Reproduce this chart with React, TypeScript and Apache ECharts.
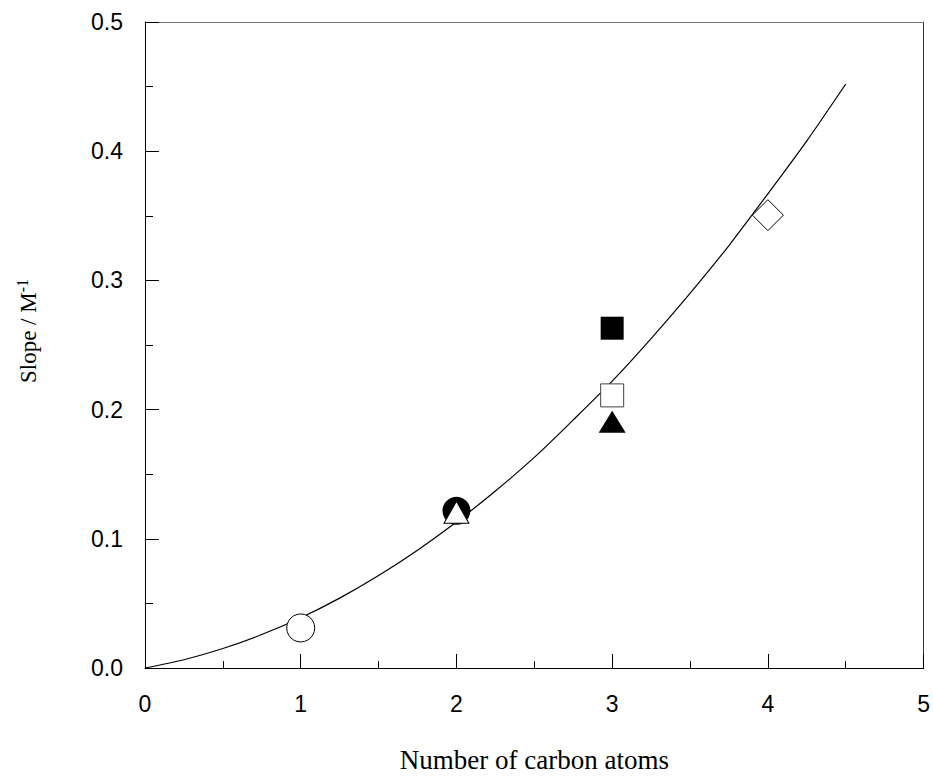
import React, { useEffect, useRef } from "react";
import * as echarts from "echarts";

// Fitted curve
const curveX = [0, 0.25, 0.5, 0.75, 1, 1.25, 1.5, 1.75, 2, 2.25, 2.5, 2.75, 3, 3.25, 3.5, 3.75, 4, 4.25, 4.5];
const curveY = [0, 0.0064, 0.0151, 0.0259, 0.0389, 0.0541, 0.0716, 0.0912, 0.113, 0.137, 0.163, 0.192, 0.222, 0.255, 0.29, 0.327, 0.367, 0.408, 0.452];

// Data points [carbon atoms, slope]
const openCircle = [[1, 0.031]];
const filledCircle = [[2, 0.1217]];
const openTriangle = [[2, 0.1205]];
const filledSquare = [[3, 0.263]];
const openSquare = [[3, 0.211]];
const filledTriangle = [[3, 0.1905]];
const openDiamond = [[4, 0.3505]];

const xTicks = [0, 1, 2, 3, 4, 5];
const yTicks = [0, 0.1, 0.2, 0.3, 0.4, 0.5];

export default function App() {
  const ref = useRef<HTMLDivElement>(null);
  useEffect(() => {
    if (!ref.current) return;
    const chart = echarts.init(ref.current, undefined, { renderer: "svg" });
    const sans = "Liberation Sans, Arial, sans-serif";
    const serif = "Liberation Serif, Times New Roman, serif";
    chart.setOption({
      animation: false,
      backgroundColor: "#fff",
      grid: { left: 145, right: 8, top: 22, bottom: 109, containLabel: false },
      graphic: [
        {
          type: "text",
          x: 28,
          y: 331,
          rotation: Math.PI / 2,
          style: {
            text: "{a|Slope / M}{b|-1}",
            align: "center",
            verticalAlign: "middle",
            fontFamily: serif,
            fontSize: 23,
            fill: "#000",
            rich: {
              a: { fontFamily: serif, fontSize: 23, fill: "#000", lineHeight: 28 },
              b: { fontFamily: serif, fontSize: 16, fill: "#000", verticalAlign: "top", lineHeight: 28, padding: [0, 0, 11, 0] },
            },
          },
        },
      ],
      xAxis: [
        {
          type: "value",
          min: xTicks[0],
          max: xTicks[xTicks.length - 1],
          interval: 1,
          name: "Number of carbon atoms",
          nameLocation: "middle",
          nameGap: 78,
          nameTextStyle: { fontFamily: serif, fontSize: 27, color: "#000" },
          axisLine: { show: true, onZero: false, lineStyle: { color: "#000", width: 1 } },
          axisTick: { show: true, inside: true, length: 14, lineStyle: { color: "#000" } },
          minorTick: { show: true, splitNumber: 2, length: 7, lineStyle: { color: "#000" } },
          axisLabel: { margin: 24, fontFamily: sans, fontSize: 23, color: "#000" },
          splitLine: { show: false },
        },
        {
          type: "value",
          position: "top",
          min: 0,
          max: 5,
          interval: 1,
          axisLine: { show: true, onZero: false, lineStyle: { color: "#777", width: 1 } },
          axisTick: { show: false },
          axisLabel: { show: false },
          splitLine: { show: false },
        },
      ],
      yAxis: [
        {
          type: "value",
          min: yTicks[0],
          max: yTicks[yTicks.length - 1],
          interval: 0.1,
          axisLine: { show: true, onZero: false, lineStyle: { color: "#000", width: 1 } },
          axisTick: { show: true, inside: true, length: 14, lineStyle: { color: "#000" } },
          minorTick: { show: true, splitNumber: 2, length: 8, lineStyle: { color: "#000" } },
          axisLabel: {
            margin: 22,
            fontFamily: sans,
            fontSize: 23,
            color: "#000",
            formatter: (v: number) => v.toFixed(1),
          },
          splitLine: { show: false },
        },
        {
          type: "value",
          position: "right",
          min: 0,
          max: 0.5,
          interval: 0.1,
          axisLine: { show: true, onZero: false, lineStyle: { color: "#333", width: 1 } },
          axisTick: { show: false },
          axisLabel: { show: false },
          splitLine: { show: false },
        },
      ],
      series: [
        {
          type: "line",
          data: curveX.map((x, i) => [x, curveY[i]]),
          smooth: 0.3,
          showSymbol: false,
          lineStyle: { color: "#000", width: 1.2 },
          z: 1,
        },
        {
          type: "scatter",
          data: openCircle,
          symbol: "circle",
          symbolSize: 28,
          itemStyle: { color: "#fff", borderColor: "#000", borderWidth: 1, opacity: 1 },
          z: 3,
        },
        {
          type: "scatter",
          data: filledCircle,
          symbol: "circle",
          symbolSize: 28,
          itemStyle: { color: "#000", opacity: 1 },
          z: 3,
        },
        {
          type: "scatter",
          data: openTriangle,
          symbol: "triangle",
          symbolSize: [25, 22],
          itemStyle: { color: "#fff", borderColor: "#000", borderWidth: 1, opacity: 1 },
          z: 4,
        },
        {
          type: "scatter",
          data: filledSquare,
          symbol: "rect",
          symbolSize: 23,
          itemStyle: { color: "#000", opacity: 1 },
          z: 3,
        },
        {
          type: "scatter",
          data: openSquare,
          symbol: "rect",
          symbolSize: 23,
          itemStyle: { color: "#fff", borderColor: "#444", borderWidth: 1, opacity: 1 },
          z: 3,
        },
        {
          type: "scatter",
          data: filledTriangle,
          symbol: "triangle",
          symbolSize: [27, 22],
          itemStyle: { color: "#000", opacity: 1 },
          z: 3,
        },
        {
          type: "scatter",
          data: openDiamond,
          symbol: "diamond",
          symbolSize: [31, 31],
          itemStyle: { color: "#fff", borderColor: "#000", borderWidth: 1, opacity: 1 },
          z: 3,
        },
      ],
    });
    return () => chart.dispose();
  }, []);
  return <div ref={ref} style={{ width: 933, height: 778, position: "absolute", left: 0, top: 0 }} />;
}
